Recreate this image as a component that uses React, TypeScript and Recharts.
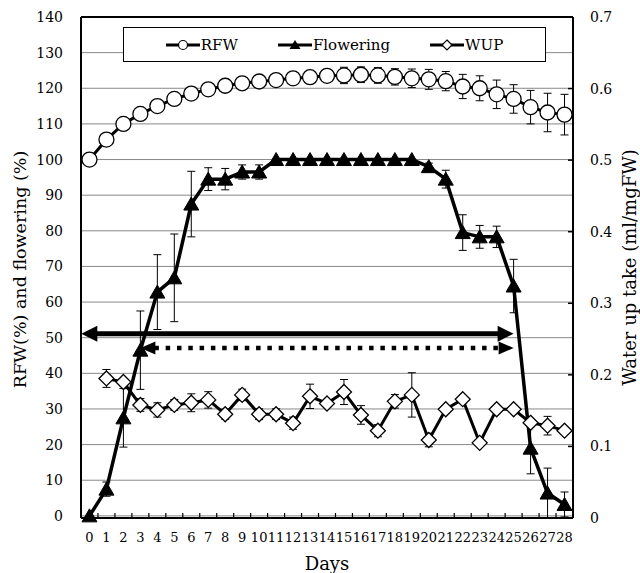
import {
  CartesianGrid,
  ComposedChart,
  ErrorBar,
  Label,
  Legend,
  Line,
  ReferenceLine,
  XAxis,
  YAxis,
} from "recharts";

const FONT = '"DejaVu Serif", serif';

const DAYS = [0, 1, 2, 3, 4, 5, 6, 7, 8, 9, 10, 11, 12, 13, 14, 15, 16, 17, 18, 19, 20, 21, 22, 23, 24, 25, 26, 27, 28];

const RFW = [100, 105.6, 110, 112.8, 115, 117, 118.5, 119.7, 120.7, 121.4, 121.9, 122.3, 122.8, 123.1, 123.5, 123.6, 123.8, 123.6, 123.2, 122.8, 122.5, 122, 120.5, 120, 118.3, 117, 114.7, 113.2, 112.6];
const RFW_ERR = [0, 0.5, 0.6, 0.7, 0.8, 0.9, 1, 1.1, 1.2, 1.3, 1.4, 1.5, 1.6, 1.7, 1.8, 2.3, 2.2, 2.2, 2.3, 2.6, 2.8, 2.7, 3.4, 3.5, 4, 4, 4.7, 5.4, 5.7];

const FLOWERING = [0, 7.5, 27.5, 46.5, 62.8, 66.8, 87.5, 94.5, 94.5, 96.5, 96.5, 100, 100, 100, 100, 100, 100, 100, 100, 100, 98, 94.5, 79.5, 78.3, 78.3, 64.5, 19, 6.4, 3.2];
const FLOWERING_ERR = [0, 2, 8.2, 11, 10.5, 12.3, 9.2, 3.2, 3, 2, 2, 0, 0, 0, 0, 0, 0, 0, 0, 0, 1, 2.5, 5, 3.2, 3, 7.5, 7.2, 7, 3.5];

const WUP = [null, 0.195, 0.19, 0.158, 0.151, 0.158, 0.161, 0.165, 0.145, 0.172, 0.145, 0.145, 0.1325, 0.17, 0.16, 0.176, 0.144, 0.122, 0.163, 0.172, 0.109, 0.152, 0.166, 0.105, 0.152, 0.152, 0.133, 0.129, 0.122];
const WUP_ERR = [null, 0.0125, 0.004, 0.009, 0.01, 0.0075, 0.0125, 0.0115, 0.007, 0.008, 0.0075, 0.0075, 0.0085, 0.017, 0.003, 0.0175, 0.013, 0.0085, 0.0095, 0.031, 0.0095, 0.002, 0.002, 0.002, 0.002, 0.002, 0.005, 0.013, 0.003];

const LEFT_TICKS = [0, 10, 20, 30, 40, 50, 60, 70, 80, 90, 100, 110, 120, 130, 140];
const RIGHT_TICKS = [0, 0.1, 0.2, 0.3, 0.4, 0.5, 0.6, 0.7];

// arrows: start day, end day, level on the left axis, dotted or solid
const ARROWS: { from: number; to: number; y: number; dotted: boolean }[] = [
  { from: -0.48, to: 25, y: 51.1, dotted: false },
  { from: 3, to: 25, y: 47.1, dotted: true },
];

const LEGEND_ITEMS = ["RFW", "Flowering", "WUP"];

const data = DAYS.map((day, i) => ({
  day,
  rfw: RFW[i],
  rfwErr: RFW_ERR[i],
  flowering: FLOWERING[i],
  floweringErr: FLOWERING_ERR[i],
  wup: WUP[i],
  wupErr: WUP_ERR[i],
}));

const empty = (p: any) => p.cx == null || p.cy == null || p.value == null;

const CircleDot = (p: any) =>
  empty(p) ? <g key={p.index} /> : (
    <circle key={p.index} cx={p.cx} cy={p.cy} r={7.5} fill="#fff" stroke="#000" strokeWidth={1.3} />
  );

const TriangleDot = (p: any) =>
  empty(p) ? <g key={p.index} /> : (
    <polygon
      key={p.index}
      points={`${p.cx},${p.cy - 7} ${p.cx - 7.5},${p.cy + 6} ${p.cx + 7.5},${p.cy + 6}`}
      fill="#000"
      stroke="#000"
    />
  );

const DiamondDot = (p: any) =>
  empty(p) ? <g key={p.index} /> : (
    <polygon
      key={p.index}
      points={`${p.cx},${p.cy - 7.5} ${p.cx + 7.5},${p.cy} ${p.cx},${p.cy + 7.5} ${p.cx - 7.5},${p.cy}`}
      fill="#fff"
      stroke="#000"
      strokeWidth={1.3}
    />
  );

const arrowShape = (dotted: boolean) => (p: any) => {
  const { x1, y1, x2 } = p;
  const len = dotted ? 15 : 16;
  const half = dotted ? 6.5 : 8;
  return (
    <g>
      <line
        x1={x1 + len - 1}
        y1={y1}
        x2={x2 - len + 1}
        y2={y1}
        stroke="#000"
        strokeWidth={dotted ? 4.5 : 5}
        strokeDasharray={dotted ? "4.5 6.8" : undefined}
      />
      <polygon points={`${x1},${y1} ${x1 + len},${y1 - half} ${x1 + len},${y1 + half}`} fill="#000" />
      <polygon points={`${x2},${y1} ${x2 - len},${y1 - half} ${x2 - len},${y1 + half}`} fill="#000" />
    </g>
  );
};

const XTick = ({ x, y, payload }: any) => (
  <g>
    <text x={x} y={y + 24} textAnchor="middle" fontSize={13} fontFamily={FONT} fill="#000">
      {payload.value}
    </text>
    {payload.value < 28 && <line x1={x + 8.48} x2={x + 8.48} y1={y} y2={y - 5} stroke="#000" strokeWidth={1.2} />}
  </g>
);

const RightTick = ({ x, y, payload }: any) => (
  <g>
    <line x1={x - 17} x2={x - 22} y1={y} y2={y} stroke="#000" strokeWidth={1.5} />
    <text x={x} y={y} dy="0.36em" textAnchor="start" fontSize={14} fontFamily={FONT} fill="#000">
      {payload.value === 0 ? "0" : payload.value.toFixed(1)}
    </text>
  </g>
);

const LeftTitle = ({ viewBox }: any) => {
  const cx = viewBox.x + 20;
  const cy = viewBox.y + viewBox.height / 2 + 2;
  return (
    <text x={cx} y={cy} transform={`rotate(-90 ${cx} ${cy})`} textAnchor="middle" dominantBaseline="central" fontSize={17.5} fontFamily={FONT} fill="#000">
      RFW(%) and flowering (%)
    </text>
  );
};

const RightTitle = ({ viewBox }: any) => {
  const cx = viewBox.x + 56;
  const cy = viewBox.y + viewBox.height / 2;
  return (
    <text x={cx} y={cy} transform={`rotate(-90 ${cx} ${cy})`} textAnchor="middle" dominantBaseline="central" fontSize={18} fontFamily={FONT} fill="#000">
      Water up take (ml/mgFW)
    </text>
  );
};

const BottomTitle = ({ viewBox }: any) => (
  <text x={viewBox.x + viewBox.width / 2} y={viewBox.y + 45} textAnchor="middle" dominantBaseline="central" fontSize={18} fontFamily={FONT} fill="#000">
    Days
  </text>
);

const legendIcon = (name: string) => {
  if (name === "RFW") return <circle cx={17} cy={8} r={4.5} fill="#fff" stroke="#000" strokeWidth={1.2} />;
  if (name === "Flowering") return <polygon points="17,3 11.5,12 22.5,12" fill="#000" />;
  return <polygon points="17,3 22,8 17,13 12,8" fill="#fff" stroke="#000" strokeWidth={1.2} />;
};

const LegendBox = () => (
  <div
    style={{
      width: "100%",
      height: "100%",
      boxSizing: "border-box",
      border: "1px solid #000",
      background: "#fff",
      display: "flex",
      alignItems: "center",
      justifyContent: "center",
      gap: 40,
      fontFamily: FONT,
      fontSize: 15,
      color: "#000",
    }}
  >
    {LEGEND_ITEMS.map((name) => (
      <div key={name} style={{ display: "flex", alignItems: "center" }}>
        <svg width={34} height={16}>
          <line x1={0} y1={8} x2={34} y2={8} stroke="#000" strokeWidth={3} />
          {legendIcon(name)}
        </svg>
        <span style={{ marginLeft: 1 }}>{name}</span>
      </div>
    ))}
  </div>
);

export default function App() {
  return (
    <div style={{ position: "absolute", left: 0, top: 0, background: "#fff" }}>
      <ComposedChart width={640} height={573} data={data} margin={{ top: 17, right: 0, bottom: 0, left: 0 }}>
        <CartesianGrid yAxisId="left" vertical={false} stroke="#888" strokeWidth={1} />
        <XAxis
          dataKey="day"
          type="number"
          domain={[-0.5, 28.5]}
          ticks={DAYS}
          interval={0}
          height={55}
          tickLine={false}
          tickSize={0}
          tickMargin={0}
          axisLine={{ stroke: "#000", strokeWidth: 2 }}
          tick={<XTick />}
        >
          <Label content={<BottomTitle />} />
        </XAxis>
        <YAxis
          yAxisId="left"
          domain={[0, 140]}
          ticks={LEFT_TICKS}
          interval={0}
          width={81}
          tickLine={false}
          tickSize={0}
          tickMargin={18}
          axisLine={{ stroke: "#000", strokeWidth: 2 }}
          tick={{ fontSize: 14, fontFamily: FONT, fill: "#000" }}
        >
          <Label content={<LeftTitle />} />
        </YAxis>
        <YAxis
          yAxisId="right"
          orientation="right"
          domain={[0, 0.7]}
          ticks={RIGHT_TICKS}
          interval={0}
          width={67}
          tickLine={false}
          tickSize={0}
          tickMargin={17}
          axisLine={{ stroke: "#000", strokeWidth: 2 }}
          tick={<RightTick />}
        >
          <Label content={<RightTitle />} />
        </YAxis>
        <ReferenceLine yAxisId="left" y={140} stroke="#000" strokeWidth={2} />
        <Legend
          layout="horizontal"
          verticalAlign="middle"
          align="center"
          content={<LegendBox />}
          wrapperStyle={{ top: 27, left: 123, width: 423, height: 35 }}
        />
        <Line
          yAxisId="right"
          dataKey="wup"
          type="linear"
          stroke="#000"
          strokeWidth={3}
          dot={DiamondDot}
          activeDot={false}
          isAnimationActive={false}
        >
          <ErrorBar dataKey="wupErr" width={4} stroke="#000" strokeWidth={1} isAnimationActive={false} />
        </Line>
        <Line
          yAxisId="left"
          dataKey="flowering"
          type="linear"
          stroke="#000"
          strokeWidth={3.5}
          dot={TriangleDot}
          activeDot={false}
          isAnimationActive={false}
        >
          <ErrorBar dataKey="floweringErr" width={4} stroke="#000" strokeWidth={1} isAnimationActive={false} />
        </Line>
        <Line
          yAxisId="left"
          dataKey="rfw"
          type="linear"
          stroke="#000"
          strokeWidth={3}
          dot={CircleDot}
          activeDot={false}
          isAnimationActive={false}
        >
          <ErrorBar dataKey="rfwErr" width={4} stroke="#000" strokeWidth={1} isAnimationActive={false} />
        </Line>
        {ARROWS.map((a, i) => (
          <ReferenceLine
            key={i}
            yAxisId="left"
            segment={[
              { x: a.from, y: a.y },
              { x: a.to, y: a.y },
            ]}
            shape={arrowShape(a.dotted)}
          />
        ))}
      </ComposedChart>
    </div>
  );
}
